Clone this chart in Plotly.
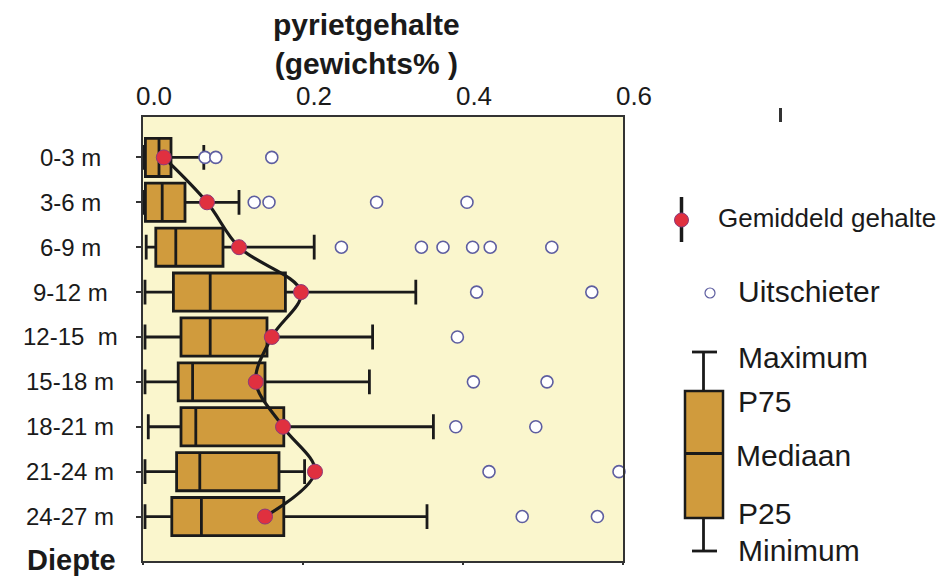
import plotly.graph_objects as go

# Depth classes (rows, top to bottom)
depth_labels = ["0-3 m", "3-6 m", "6-9 m", "9-12 m", "12-15\u00a0 m",
                "15-18 m", "18-21 m", "21-24 m", "24-27 m"]

# Pyrite content per depth class (weight %)
p_min = [0.0, 0.0, 0.004, 0.0025, 0.0025, 0.0025, 0.0066, 0.0025, 0.0025]
p25 = [0.003, 0.003, 0.016, 0.038, 0.0475, 0.044, 0.0475, 0.042, 0.036]
median = [0.020, 0.024, 0.041, 0.084, 0.084, 0.062, 0.066, 0.071, 0.073]
p75 = [0.035, 0.0525, 0.100, 0.178, 0.155, 0.1525, 0.176, 0.170, 0.176]
p_max = [0.076, 0.120, 0.214, 0.341, 0.287, 0.283, 0.363, 0.202, 0.355]
mean = [0.026, 0.080, 0.120, 0.1975, 0.161, 0.141, 0.175, 0.215, 0.1525]

# Outliers: row index of the depth class and the value
outlier_row = [0, 0, 0, 1, 1, 1, 1, 2, 2, 2, 2, 2, 2, 3, 3, 4, 5, 5, 6, 6, 7, 7, 8, 8]
outlier_value = [0.0775, 0.091, 0.161, 0.139, 0.1575, 0.292, 0.405,
                 0.248, 0.348, 0.375, 0.412, 0.434, 0.511, 0.417, 0.561,
                 0.393, 0.413, 0.505, 0.391, 0.491, 0.4325, 0.595, 0.474, 0.568]

x_ticks = [0.0, 0.2, 0.4, 0.6]
x_ticktext = ["0.0", "0.2", "0.4", "0.6"]

FONT = "Liberation Sans, Arial, sans-serif"
INK = "#1a1a1a"
BOX_FILL = "#D09B3D"
BG = "#FAF6CD"
RED = "#E0303F"
OUTLINE = "#5E5EA0"

W, H = 950, 579
L, R, T, B = 143, 327, 117, 18
PW, PH = W - L - R, H - T - B

rows = list(range(len(depth_labels)))


def px_x(px):
    return (px - L) / PW


def px_y(py):
    return (H - B - py) / PH


fig = go.Figure()

fig.add_trace(go.Box(
    y=rows, q1=p25, median=median, q3=p75,
    lowerfence=p_min, upperfence=p_max,
    orientation="h", boxpoints=False,
    fillcolor=BOX_FILL, line=dict(color=INK, width=2.8),
    whiskerwidth=0.65, width=0.85, hoverinfo="skip",
))

fig.add_trace(go.Scatter(
    x=outlier_value, y=outlier_row, mode="markers", cliponaxis=False,
    marker=dict(symbol="circle", size=12, color="white",
                line=dict(color=OUTLINE, width=1.6)),
    hoverinfo="skip",
))

fig.add_trace(go.Scatter(
    x=mean, y=rows, mode="lines+markers",
    line=dict(color=INK, width=3.2, shape="spline"),
    marker=dict(size=15, color=RED, line=dict(color="#8B3A7A", width=1)),
    hoverinfo="skip",
))

# carrier for the bottom tick axis
fig.add_trace(go.Scatter(x=[None], y=[None], xaxis="x2", showlegend=False,
                         hoverinfo="skip"))

annotations = []
for i, lab in enumerate(depth_labels):
    annotations.append(dict(
        text=lab, xref="paper", yref="y", x=px_x(70), y=rows[i],
        xanchor="center", yanchor="middle", showarrow=False,
        font=dict(family=FONT, size=24, color=INK),
    ))

annotations.append(dict(
    text="<b>Diepte</b>", xref="paper", yref="paper", x=px_x(71), y=px_y(560),
    xanchor="center", yanchor="middle", showarrow=False,
    font=dict(family=FONT, size=29, color=INK),
))

annotations.append(dict(
    text="<b>pyrietgehalte<br>(gewichts% )</b>", xref="paper", yref="paper",
    x=px_x(366), y=px_y(6), xanchor="center", yanchor="top", showarrow=False,
    font=dict(family=FONT, size=30, color=INK),
))

# Legend texts
legend_text = [
    ("Gemiddeld gehalte", 716, 218, 26),
    ("Uitschieter", 736, 291, 30),
    ("Maximum", 736, 357, 30),
    ("P75", 736, 401, 30),
    ("Mediaan", 734, 455, 30),
    ("P25", 736, 513, 30),
    ("Minimum", 736, 550, 30),
]
for txt, lx, ly, fs in legend_text:
    annotations.append(dict(
        text=txt, xref="paper", yref="paper", x=px_x(lx), y=px_y(ly),
        xanchor="left", yanchor="middle", showarrow=False,
        font=dict(family=FONT, size=fs, color=INK),
    ))

shapes = []


def seg(x0, y0, x1, y1, w=2.8, color=INK):
    shapes.append(dict(type="line", xref="paper", yref="paper",
                       x0=px_x(x0), y0=px_y(y0), x1=px_x(x1), y1=px_y(y1),
                       line=dict(color=color, width=w)))


# legend: mean symbol
seg(681.5, 197, 681.5, 242, w=3.5)
shapes.append(dict(type="circle", xref="paper", yref="paper",
                   xsizemode="pixel", ysizemode="pixel",
                   xanchor=px_x(681.5), yanchor=px_y(220),
                   x0=-7, x1=7, y0=-7, y1=7,
                   fillcolor=RED, line=dict(color="#8B3A7A", width=1)))
# legend: outlier symbol
shapes.append(dict(type="circle", xref="paper", yref="paper",
                   xsizemode="pixel", ysizemode="pixel",
                   xanchor=px_x(710), yanchor=px_y(293),
                   x0=-5, x1=5, y0=-5, y1=5,
                   fillcolor="white", line=dict(color=OUTLINE, width=1.2)))
# legend: box symbol
seg(692, 352, 717, 352)
seg(703.5, 352, 703.5, 391)
seg(703.5, 518, 703.5, 551)
seg(692, 551, 717, 551)
shapes.append(dict(type="rect", xref="paper", yref="paper",
                   x0=px_x(685), x1=px_x(723), y0=px_y(518), y1=px_y(391),
                   fillcolor=BOX_FILL, line=dict(color=INK, width=2.5)))
seg(685, 453.5, 723, 453.5, w=3)
# small stray tick at the upper right
seg(780.5, 108, 780.5, 122, w=3, color="#333333")

fig.update_layout(
    width=W, height=H,
    margin=dict(l=L, r=R, t=T, b=B, pad=0),
    paper_bgcolor="white", plot_bgcolor=BG,
    showlegend=False,
    font=dict(family=FONT, color=INK),
    xaxis=dict(
        range=[0, 0.6], side="top", tickvals=x_ticks, ticktext=x_ticktext,
        ticks="", showgrid=False, zeroline=False,
        showline=True, mirror=True, linecolor="#333333", linewidth=2,
        tickfont=dict(family=FONT, size=26, color=INK),
        ticklabelshift=11, ticklabelstandoff=0,
    ),
    xaxis2=dict(
        range=[0, 0.6], matches="x", overlaying="x", side="bottom", anchor="y",
        tickvals=x_ticks, showticklabels=False, ticks="outside",
        ticklen=3, tickwidth=2, tickcolor="#333333",
        showgrid=False, zeroline=False, showline=False,
    ),
    yaxis=dict(
        range=[8.99, -0.9], tickvals=rows, showticklabels=False,
        ticks="outside", ticklen=5, tickwidth=2, tickcolor="#333333",
        showgrid=False, zeroline=False,
        showline=True, mirror=True, linecolor="#333333", linewidth=2,
    ),
    annotations=annotations,
    shapes=shapes,
)

fig.write_html("out.html")
